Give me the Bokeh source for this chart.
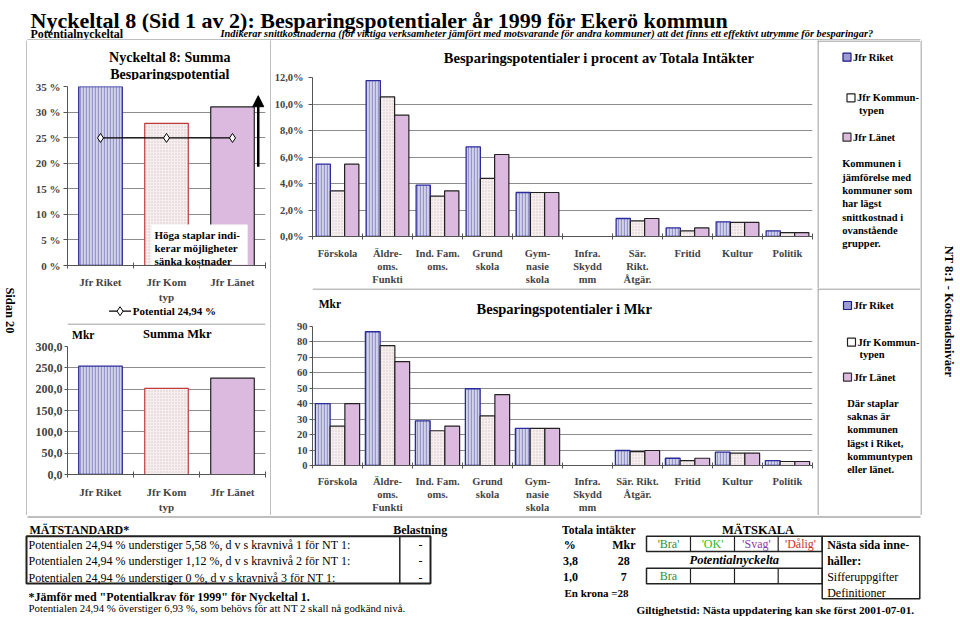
import numpy as np
from math import pi
from bokeh.plotting import figure
from bokeh.layouts import row, column
from bokeh.models import (Range1d, FixedTicker, Label, BoxAnnotation, Arrow, NormalHead,
                          ColumnDataSource)
from bokeh.transform import dodge
from bokeh.core.properties import value
from bokeh.embed import file_html
from bokeh.resources import INLINE

SERIF = "Liberation Serif"
GRID = "#8c8c8c"
AXIS = "#555555"
BOX = "#7f7f7f"

# ---------------- data ----------------
SUM_GROUPS = ["Jfr Riket", "Jfr Kom\ntyp", "Jfr Länet"]
SUM_PCT = [35.0, 27.8, 31.0]
SUM_MKR = [254.0, 202.0, 226.0]
POTENTIAL = 24.94
SUM_PCT_TICKS = [0, 5, 10, 15, 20, 25, 30, 35]
SUM_PCT_LABELS = ["0 %", "5 %", "10 %", "15 %", "20 %", "25 %", "30 %", "35 %"]
SUM_MKR_TICKS = [0, 50, 100, 150, 200, 250, 300]
SUM_MKR_LABELS = ["0,0", "50,0", "100,0", "150,0", "200,0", "250,0", "300,0"]

CATS_PCT = ["Förskola", "Äldre-\noms.\nFunkti", "Ind. Fam.\noms.", "Grund\nskola",
            "Gym-\nnasie\nskola", "Infra.\nSkydd\nmm", "Sär.\nRikt.\nÅtgär.",
            "Fritid", "Kultur", "Politik"]
CATS_MKR = ["Förskola", "Äldre-\noms.\nFunkti", "Ind. Fam.\noms.", "Grund\nskola",
            "Gym-\nnasie\nskola", "Infra.\nSkydd\nmm", "Sär. Rikt.\nÅtgär.",
            "Fritid", "Kultur", "Politik"]
RIKET_PCT = [5.46, 11.77, 3.87, 6.77, 3.32, None, 1.36, 0.65, 1.11, 0.43]
KOM_PCT = [3.45, 10.54, 3.04, 4.38, 3.32, None, 1.18, 0.43, 1.06, 0.30]
LAN_PCT = [5.46, 9.16, 3.45, 6.19, 3.32, None, 1.36, 0.65, 1.06, 0.30]
RIKET_MKR = [40.1, 86.6, 28.9, 49.7, 24.0, None, 9.7, 4.7, 8.6, 3.2]
KOM_MKR = [25.5, 77.6, 22.5, 32.1, 24.0, None, 9.0, 3.2, 8.0, 2.6]
LAN_MKR = [40.1, 67.3, 25.5, 45.9, 24.0, None, 9.7, 4.7, 8.0, 2.6]
PCT_TICKS = [0, 2, 4, 6, 8, 10, 12]
PCT_LABELS = ["0,0%", "2,0%", "4,0%", "6,0%", "8,0%", "10,0%", "12,0%"]
MKR_TICKS = [0, 10, 20, 30, 40, 50, 60, 70, 80, 90]
MKR_LABELS = ["0", "10", "20", "30", "40", "50", "60", "70", "80", "90"]

# annotation positions of the summary chart (data units)
ARROW_X = 2.89
ARROW_Y = (19.3, 33.2)
NOTE_BOX = (1.27, 2.73, 0.15, 8.0)   # left, right, bottom, top

# ---------------- styles ----------------
RIKET_STYLE = dict(fill_color="#d2d2ea", hatch_pattern="vertical_line", hatch_color="#9696c8",
                   hatch_scale=3, hatch_weight=1.3, line_color="#2b2b9c", line_width=1.3)
KOM_STYLE = dict(fill_color="#f6efef", hatch_pattern="dot", hatch_color="#d8c4c4",
                 hatch_scale=3, hatch_weight=1, line_color="#222222", line_width=1.2)
KOM_SUM_STYLE = dict(KOM_STYLE, line_color="#c23b3b")
LAN_STYLE = dict(fill_color="#dcb9df", line_color="#222222", line_width=1.2)


def canvas(w, h):
    p = figure(width=w, height=h, x_range=Range1d(0, w), y_range=Range1d(h, 0),
               output_backend="svg", toolbar_location=None, min_border=0, title=None,
               x_axis_location=None, y_axis_location=None)
    p.grid.visible = False
    p.outline_line_color = None
    p.background_fill_color = "white"
    p.border_fill_color = "white"
    return p


def txt(p, x, y, s, size, style="bold", align="left", color="black", angle=0.0):
    p.text(x=[x], y=[y], text=[s], text_font=value(SERIF), text_font_size=f"{size}px",
           text_font_style=style, text_align=align, text_baseline="middle",
           text_color=color, angle=angle)


def hline(p, x0, x1, y, color=BOX, width=1):
    p.segment(x0=[x0], y0=[y], x1=[x1], y1=[y], line_color=color, line_width=width)


def vline(p, x, y0, y1, color=BOX, width=1):
    p.segment(x0=[x], y0=[y0], x1=[x], y1=[y1], line_color=color, line_width=width)


def make_chart(w, h, fl, fr, ft, fb, xmax, ymax):
    p = figure(width=w, height=h, x_range=Range1d(0, xmax), y_range=Range1d(0, ymax),
               output_backend="svg", toolbar_location=None, title=None,
               min_border_left=fl, min_border_right=w - fr,
               min_border_top=ft, min_border_bottom=h - fb)
    p.outline_line_color = None
    p.background_fill_color = "white"
    p.border_fill_color = "white"
    p.xgrid.visible = False
    return p


def style_axes(p, labels, xfs, xstand, yticks, ylabels, yfs, ytick_out, ystand, lh):
    n = len(labels)
    centers = [i + 0.5 for i in range(n)]
    xa = p.xaxis[0]
    xa.ticker = FixedTicker(ticks=centers, minor_ticks=list(range(n + 1)))
    xa.major_label_overrides = dict(zip(centers, labels))
    xa.major_tick_line_color = None
    xa.major_tick_in = 0
    xa.major_tick_out = 0
    xa.minor_tick_line_color = AXIS
    xa.minor_tick_in = 3
    xa.minor_tick_out = 3
    xa.axis_line_color = AXIS
    xa.major_label_text_font = SERIF
    xa.major_label_text_font_style = "bold"
    xa.major_label_text_font_size = f"{xfs}px"
    xa.major_label_text_line_height = lh
    xa.major_label_standoff = xstand
    ya = p.yaxis[0]
    ya.ticker = FixedTicker(ticks=yticks, minor_ticks=[])
    ya.major_label_overrides = dict(zip(yticks, ylabels))
    ya.minor_tick_line_color = None
    ya.major_tick_in = 0
    ya.major_tick_out = ytick_out
    ya.major_tick_line_color = AXIS
    ya.axis_line_color = AXIS
    ya.major_label_text_font = SERIF
    ya.major_label_text_font_style = "bold"
    ya.major_label_text_font_size = f"{yfs}px"
    ya.major_label_standoff = ystand
    p.ygrid[0].ticker = ya.ticker
    p.ygrid[0].grid_line_color = GRID


def clabel(p, x, y, s, size, style="bold", align="center"):
    p.add_layout(Label(x=x, y=y, x_units="canvas", y_units="canvas", text=s,
                       text_font=SERIF, text_font_size=f"{size}px", text_font_style=style,
                       text_align=align, text_baseline="middle", text_color="black"))


# ---------------- header (y 0..40) ----------------
header = canvas(958, 40)
header.text(x=[30], y=[19.5], text=["Nyckeltal 8 (Sid 1 av 2): Besparingspotentialer år 1999 för Ekerö kommun"],
            text_font=value(SERIF), text_font_size="22px", text_font_style="bold",
            text_baseline="alphabetic")
header.text(x=[30], y=[33.5], text=["Potentialnyckeltal"], text_font=value(SERIF),
            text_font_size="12px", text_font_style="bold", text_baseline="alphabetic")
header.text(x=[220], y=[33], text=["Indikerar snittkostnaderna (för viktiga verksamheter jämfört med motsvarande för andra kommuner) att det finns ett effektivt utrymme för besparingar?"],
            text_font=value(SERIF), text_font_size="10.4px", text_font_style="bold italic",
            text_baseline="alphabetic")
hline(header, 27, 920, 39.5)

# ---------------- side strips ----------------
lstrip = canvas(27, 475)
vline(lstrip, 26.5, 0, 475)
txt(lstrip, 9, 270, "Sidan 20", 12.5, align="center", angle=-pi / 2)

rstrip = canvas(38, 475)
vline(rstrip, 0.5, 0, 475)
txt(rstrip, 28, 271, "NT 8:1 - Kostnadsnivåer", 12.5, align="center", angle=-pi / 2)

sep = canvas(1, 475)
sep.background_fill_color = BOX
sep.border_fill_color = BOX

# ---------------- summary % chart (x 27..270, y 40..323) ----------------
centers3 = [i + 0.5 for i in range(len(SUM_GROUPS))]
sum_styles = [RIKET_STYLE, KOM_SUM_STYLE, LAN_STYLE]

tl_top = canvas(243, 40)
txt(tl_top, 125.5, 16.7, "Nyckeltal 8: Summa", 14, align="center")
txt(tl_top, 125.5, 33.5, "Besparingspotential", 14, align="center")

tl = make_chart(243, 225, 40, 238, 6, 189, 3, 35)
style_axes(tl, SUM_GROUPS, 11, 7, SUM_PCT_TICKS, SUM_PCT_LABELS, 11, 4, 3, 1.27)
for i, st in enumerate(sum_styles):
    tl.vbar(x=[centers3[i]], top=[SUM_PCT[i]], width=0.66, **st)
tl.line(centers3, [POTENTIAL] * 3, line_color="black", line_width=1.2)
tl.scatter(centers3, [POTENTIAL] * 3, marker="diamond", size=9, fill_color="white",
           line_color="black", line_width=1)
tl.add_layout(BoxAnnotation(left=NOTE_BOX[0], right=NOTE_BOX[1], bottom=NOTE_BOX[2],
                            top=NOTE_BOX[3], fill_color="white", fill_alpha=1, line_color=None))
for k, s in enumerate(["Höga staplar indi-", "kerar möjligheter", "sänka kostnader"]):
    clabel(tl, 127, 154.3 + 12.9 * k, s, 11, align="left")
tl.add_layout(Arrow(end=NormalHead(size=11, fill_color="black", line_color="black"),
                    x_start=ARROW_X, y_start=ARROW_Y[0], x_end=ARROW_X, y_end=ARROW_Y[1],
                    line_width=2.5, line_color="black"))

tl_bot = canvas(243, 18)
hline(tl_bot, 51, 78, 5.7, color="black", width=1.2)
tl_bot.scatter(x=[64.5], y=[5.7], marker="diamond", size=9, fill_color="white",
               line_color="black", line_width=1)
txt(tl_bot, 80, 5.9, "Potential 24,94 %", 11)

# ---------------- summary Mkr chart (x 27..270, y 323..515) ----------------
bl_top = canvas(243, 18)
hline(bl_top, 0, 243, 0.5)
txt(bl_top, 19.3, 11.5, "Mkr", 11.5, align="center")
txt(bl_top, 134.7, 10.5, "Summa Mkr", 12.5, align="center")

bl = make_chart(243, 174, 38, 238, 5, 137, 3, 300)
style_axes(bl, SUM_GROUPS, 11, 8, SUM_MKR_TICKS, SUM_MKR_LABELS, 12, 3, 2, 1.27)
for i, st in enumerate(sum_styles):
    bl.vbar(x=[centers3[i]], top=[SUM_MKR[i]], width=0.66, **st)

# ---------------- percent chart (x 271..817, y 40..288) ----------------
tm_top = canvas(546, 29)
txt(tm_top, 313, 17, "Besparingspotentialer i procent av Totala Intäkter", 14.5, align="center")

pct_src = ColumnDataSource(dict(x=[i + 0.5 for i in range(len(CATS_PCT))],
                                riket=np.array(RIKET_PCT, dtype=float),
                                kom=np.array(KOM_PCT, dtype=float),
                                lan=np.array(LAN_PCT, dtype=float)))
tm = make_chart(546, 219, 40, 541, 8, 167, len(CATS_PCT), 12)
style_axes(tm, CATS_PCT, 10.5, 8, PCT_TICKS, PCT_LABELS, 10.5, 4, 5, 1.2)
BW = 0.285
for off, col, st in [(-BW, "riket", RIKET_STYLE), (0, "kom", KOM_STYLE), (BW, "lan", LAN_STYLE)]:
    tm.vbar(x=dodge("x", off), top=col, width=BW, source=pct_src, **st)

# ---------------- Mkr chart (x 271..817, y 288..515) ----------------
bm_top = canvas(546, 30)
hline(bm_top, 0, 546, 0.5)
txt(bm_top, 19, 15, "Mkr", 11.5, align="center")
txt(bm_top, 275, 20, "Besparingspotentialer i Mkr", 14.5, align="center")

mkr_src = ColumnDataSource(dict(x=[i + 0.5 for i in range(len(CATS_MKR))],
                                riket=np.array(RIKET_MKR, dtype=float),
                                kom=np.array(KOM_MKR, dtype=float),
                                lan=np.array(LAN_MKR, dtype=float)))
bm = make_chart(546, 197, 23, 542, 8, 148, len(CATS_MKR), 90)
style_axes(bm, CATS_MKR, 10.5, 7, MKR_TICKS, MKR_LABELS, 10.5, 3, 2, 1.2)
BW2 = 0.295
for off, col, st in [(-BW2, "riket", RIKET_STYLE), (0, "kom", KOM_STYLE), (BW2, "lan", LAN_STYLE)]:
    bm.vbar(x=dodge("x", off), top=col, width=BW2, source=mkr_src, **st)

# ---------------- legend panels (x 817..920) ----------------
LEG_RIKET = dict(fill_color="#9d9dd2", line_color="#1a1a8a")
LEG_KOM = dict(fill_color="white", line_color="#222222")
LEG_LAN = dict(fill_color="#dcb9df", line_color="#333333")


def legend_panel(h, ys, sq_x, kom_dx, para_x, para_y0, para):
    p = canvas(103, h)
    vline(p, 0.5, 0, h)
    hline(p, 0, 103, 0.5)
    y_r, y_k, y_l = ys
    p.scatter(x=[sq_x], y=[y_r], marker="square", size=8, line_width=1.2, **LEG_RIKET)
    txt(p, sq_x + 6, y_r, "Jfr Riket", 10.5)
    p.scatter(x=[sq_x + kom_dx], y=[y_k], marker="square", size=8, line_width=1.2, **LEG_KOM)
    txt(p, sq_x + kom_dx + 6, y_k, "Jfr Kommun-", 10.5)
    txt(p, sq_x + kom_dx + 8, y_k + 12.7, "typen", 10.5)
    p.scatter(x=[sq_x], y=[y_l], marker="square", size=8, line_width=1.2, **LEG_LAN)
    txt(p, sq_x + 6, y_l, "Jfr Länet", 10.5)
    for k, s in enumerate(para):
        txt(p, para_x, para_y0 + 13.33 * k, s, 10.5)
    return p


lg1 = legend_panel(248, (16.7, 57.3, 96.7), 29.5, 4, 24.7, 123.3,
                   ["Kommunen i", "jämförelse med", "kommuner som", "har lägst",
                    "snittkostnad i", "ovanstående", "grupper."])
lg2 = legend_panel(227, (17, 53.7, 88.7), 30, 4, 29.7, 114.7,
                   ["Där staplar", "saknas är", "kommunen", "lägst i Riket,",
                    "kommuntypen", "eller länet."])

# ---------------- footer (y 515..616) ----------------
ft = canvas(958, 101)
hline(ft, 27, 920, 1.5)
txt(ft, 29, 14, "MÄTSTANDARD*", 12)
txt(ft, 419.7, 14, "Belastning", 12, align="center")
ft.quad(left=[26], right=[430], top=[20.7], bottom=[68], fill_alpha=0, line_color="#222222", line_width=2)
vline(ft, 399.3, 20.7, 68, color="#222222", width=1.5)
rows = ["Potentialen 24,94 % understiger 5,58 %, d v s kravnivå 1 för NT 1:",
        "Potentialen 24,94 % understiger 1,12 %, d v s kravnivå 2 för NT 1:",
        "Potentialen 24,94 % understiger 0 %, d v s kravnivå 3 för NT 1:"]
for k, s in enumerate(rows):
    txt(ft, 28, 29.3 + 16.5 * k, s, 12, style="normal")
    txt(ft, 420, 29.3 + 16.5 * k, "-", 12, style="normal", align="center")
txt(ft, 28, 81, "*Jämför med \"Potentialkrav för 1999\" för Nyckeltal 1.", 12)
txt(ft, 28, 92.5, "Potentialen 24,94 % överstiger 6,93 %, som behövs för att NT 2 skall nå godkänd nivå.", 10.8, style="normal")

txt(ft, 598.3, 14, "Totala intäkter", 11.5, align="center")
txt(ft, 757.5, 14, "MÄTSKALA", 12.5, align="center")
txt(ft, 569.3, 29.3, "%", 12, align="center")
txt(ft, 623.3, 29.3, "Mkr", 12, align="center")
txt(ft, 570, 45, "3,8", 12, align="center")
txt(ft, 623.3, 45, "28", 12, align="center")
txt(ft, 570, 61.7, "1,0", 12, align="center")
txt(ft, 623.3, 61.7, "7", 12, align="center")
txt(ft, 596, 77.3, "En krona =28", 11, align="center")
ft.quad(left=[646, 646, 821.7], right=[821.7, 821.7, 919.3], top=[20.7, 52.7, 20.7],
        bottom=[36, 68.3, 83.3], fill_alpha=0, line_color="#222222", line_width=1.5)
ft.segment(x0=[690, 734, 777.7, 690, 734, 777.7], y0=[20.7] * 3 + [52.7] * 3,
           x1=[690, 734, 777.7, 690, 734, 777.7], y1=[36] * 3 + [68.3] * 3,
           line_color="#222222", line_width=1.2)
for s, x, c in [("'Bra'", 668, "#2f8f2f"), ("'OK'", 712, "#22c022"),
                ("'Svag'", 756, "#8e3aa8"), ("'Dålig'", 800, "#d03030")]:
    txt(ft, x, 28.3, s, 12, style="normal", align="center", color=c)
txt(ft, 733.8, 44.5, "Potentialnyckelta", 12.5, style="bold italic", align="center")
txt(ft, 668, 60.5, "Bra", 12, style="normal", align="center", color="#2f8f2f")
txt(ft, 826.7, 29.3, "Nästa sida inne-", 12)
txt(ft, 826.7, 45, "håller:", 12)
txt(ft, 826.7, 61.7, "Sifferuppgifter", 12, style="normal")
txt(ft, 826.7, 77.3, "Definitioner", 12, style="normal")
txt(ft, 636, 94, "Giltighetstid: Nästa uppdatering kan ske först 2001-07-01.", 11.2)

# ---------------- layout ----------------
left_col = column(tl_top, tl, tl_bot, bl_top, bl, spacing=0)
mid_col = column(tm_top, tm, bm_top, bm, spacing=0)
leg_col = column(lg1, lg2, spacing=0)
mid = row(lstrip, left_col, sep, mid_col, leg_col, rstrip, spacing=0)
page = column(header, mid, ft, spacing=0)

open("out.html", "w").write(file_html(page, INLINE))
